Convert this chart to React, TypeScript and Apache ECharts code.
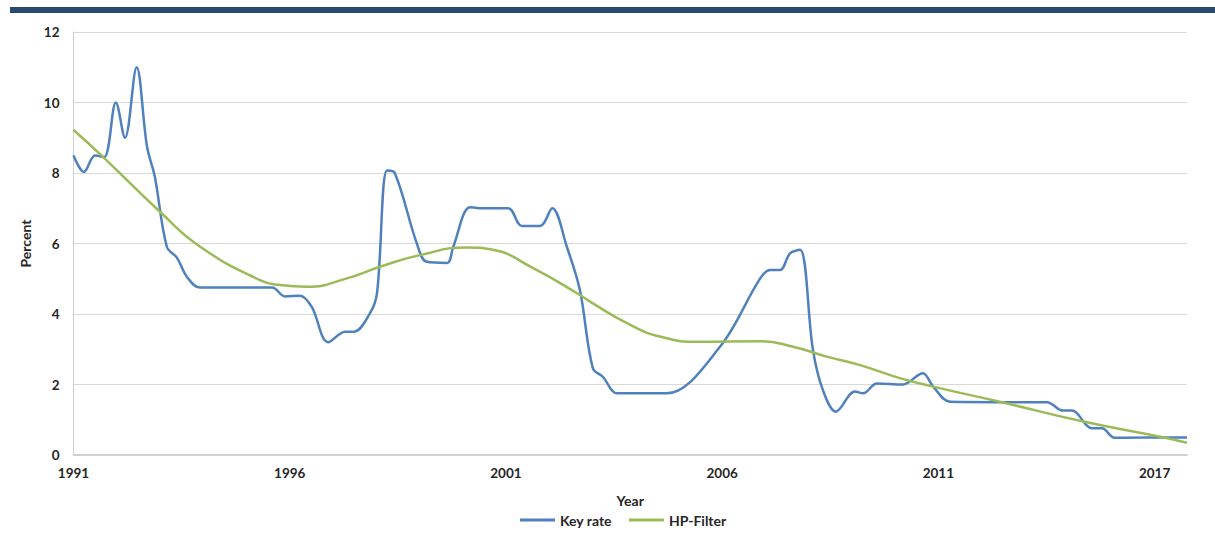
import React, { useEffect, useRef } from "react";
import * as echarts from "echarts";

// Time axis: years elapsed since the first observation (January 1991)
const xTickLabels = ["1991", "1996", "2001", "2006", "2011", "2017"];
const xSpan = 25.75;

const keyRateT = [
  0, 0.24, 0.5, 0.71, 0.98, 1.19, 1.46, 1.7, 1.88, 2.16, 2.39, 2.62, 2.92, 3.6, 4.59, 4.89,
  5.24, 5.51, 5.89, 6.28, 6.49, 6.86, 7.02, 7.25, 7.43, 7.94, 8.17, 8.64, 8.78, 9.17,
  9.4, 10.05, 10.37, 10.79, 11.07, 11.41, 11.71, 12.01, 12.24, 12.57, 13.2, 13.72, 14.95,
  15.88, 16.11, 16.34, 16.57, 16.8, 17.1, 17.33, 17.63, 18.07, 18.26, 18.58, 19.18, 19.64,
  19.88, 20.27, 21.4, 22.51, 22.88, 23.09, 23.55, 23.78, 24.08, 25.0, 25.75,
];
const keyRate = [
  8.5, 8.03, 8.5, 8.45, 10.0, 9.0, 11.0, 8.75, 7.9, 5.9, 5.6, 5.06, 4.75, 4.75, 4.75, 4.5,
  4.52, 4.2, 3.2, 3.5, 3.5, 4.03, 4.6, 8.07, 8.0, 6.0, 5.48, 5.45, 5.9, 7.03,
  7.0, 7.0, 6.5, 6.5, 7.0, 5.9, 4.68, 2.46, 2.22, 1.75, 1.75, 1.75, 3.07,
  5.01, 5.25, 5.25, 5.72, 5.82, 2.98, 1.84, 1.23, 1.8, 1.75, 2.03, 2.0, 2.32,
  1.94, 1.51, 1.5, 1.5, 1.26, 1.26, 0.76, 0.76, 0.49, 0.5, 0.5,
];

const hpT = [
  0, 0.68, 2.0, 2.93, 4.31, 4.78, 5.4, 6.32, 7.09, 8.01, 9.1, 9.7, 10.63, 11.71, 12.01,
  12.8, 13.56, 14.49, 15.88, 16.64, 17.42, 18.19, 19.11, 19.88, 21.42, 23.35, 25.13, 25.75,
];
const hpFilter = [
  9.22, 8.46, 6.9, 5.91, 4.96, 4.82, 4.77, 5.01, 5.34, 5.67, 5.89, 5.82, 5.3, 4.54, 4.3,
  3.74, 3.36, 3.21, 3.23, 3.07, 2.79, 2.55, 2.18, 1.94, 1.51, 0.95, 0.52, 0.35,
];

const FONT = "Lato, 'Open Sans', sans-serif";
const TEXT = "#262626";

export default function App() {
  const ref = useRef<HTMLDivElement>(null);

  useEffect(() => {
    if (!ref.current) return;
    const chart = echarts.init(ref.current, null, { renderer: "svg" });
    const pairs = (xs: number[], ys: number[]) => xs.map((x, i) => [x, ys[i]]);

    chart.setOption({
      animation: false,
      backgroundColor: "#ffffff",
      textStyle: { fontFamily: FONT },
      graphic: [
        {
          type: "rect",
          shape: { x: 10, y: 7, width: 1205, height: 6 },
          style: { fill: "#284a70" },
        },
      ],
      grid: { left: 73.5, right: 28, top: 32, bottom: 94 },
      legend: {
        bottom: 17,
        left: 515,
        itemWidth: 35,
        itemHeight: 3,
        itemGap: 17,
        icon: "rect",
        textStyle: { fontFamily: FONT, fontWeight: "bold", fontSize: 14, color: TEXT },
        data: ["Key rate", "HP-Filter"],
      },
      xAxis: {
        type: "value",
        min: 0,
        max: xSpan,
        interval: 5,
        name: "Year",
        nameLocation: "middle",
        nameGap: 38,
        nameTextStyle: { fontFamily: FONT, fontWeight: "bold", fontSize: 14, color: TEXT },
        axisLine: { show: true, lineStyle: { color: "#d0d0d0", width: 2 } },
        axisTick: { show: false },
        splitLine: { show: false },
        axisLabel: {
          showMaxLabel: false,
          margin: 11,
          fontFamily: FONT,
          fontWeight: "bold",
          fontSize: 13.5,
          color: TEXT,
          formatter: (v: number) => xTickLabels[Math.round(v / 5)] ?? "",
        },
      },
      yAxis: {
        type: "value",
        min: 0,
        max: 12,
        interval: 2,
        name: "Percent",
        nameLocation: "middle",
        nameGap: 36,
        nameTextStyle: { fontFamily: FONT, fontWeight: "bold", fontSize: 14, color: TEXT },
        axisLine: { show: true, lineStyle: { color: "#d0d0d0", width: 1 } },
        axisTick: { show: false },
        splitLine: { show: true, lineStyle: { color: "#d9d9d9", width: 1 } },
        axisLabel: {
          margin: 14,
          fontFamily: FONT,
          fontWeight: "bold",
          fontSize: 13.5,
          color: TEXT,
        },
      },
      series: [
        {
          name: "Key rate",
          type: "line",
          data: pairs(keyRateT, keyRate),
          smooth: 0.35,
          symbol: "none",
          color: "#4f81bd",
          lineStyle: { color: "#4f81bd", width: 2.5 },
        },
        {
          name: "HP-Filter",
          type: "line",
          data: pairs(hpT, hpFilter),
          smooth: 0.5,
          symbol: "none",
          color: "#9bbb59",
          lineStyle: { color: "#9bbb59", width: 2.5 },
        },
      ],
    });

    return () => chart.dispose();
  }, []);

  return (
    <div
      ref={ref}
      style={{ position: "fixed", left: 0, top: 0, width: 1215, height: 549, background: "#fff" }}
    />
  );
}
